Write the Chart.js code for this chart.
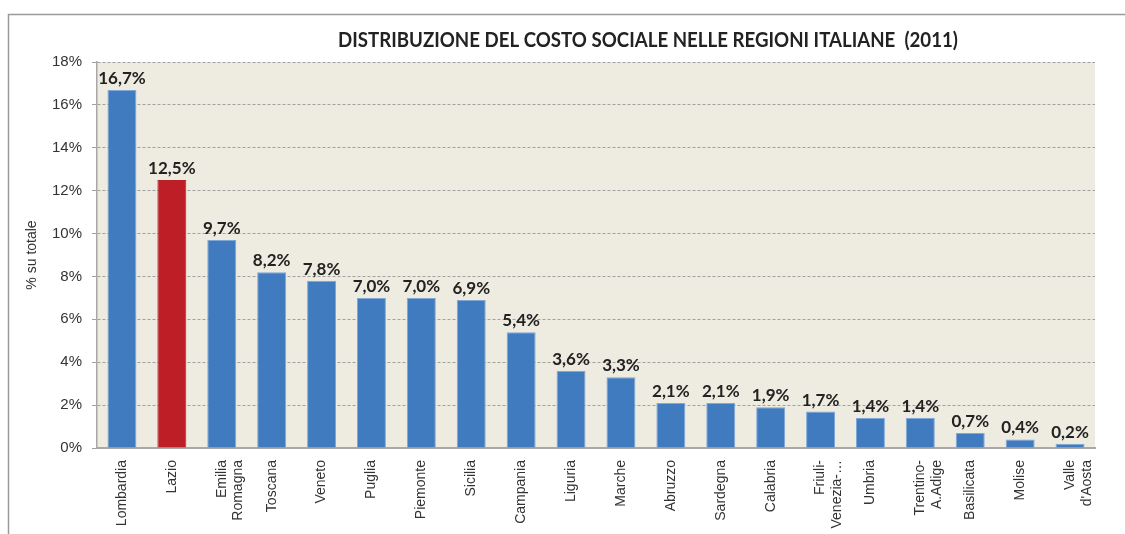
<!DOCTYPE html>
<html>
<head>
<meta charset="utf-8">
<script src="https://cdn.jsdelivr.net/npm/chart.js@4/dist/chart.umd.min.js"></script>
<style>
  html, body { margin: 0; padding: 0; background: #ffffff; }
  #wrap { width: 1125px; height: 534px; position: relative; }
</style>
</head>
<body>
<div id="wrap"><canvas id="c" width="1125" height="534"></canvas></div>
<script>
const titleText = 'DISTRIBUZIONE DEL COSTO SOCIALE NELLE REGIONI ITALIANE  (2011)';
const yAxisTitle = '% su totale';
const regions = [
  'Lombardia', 'Lazio', ['Emilia', 'Romagna'], 'Toscana', 'Veneto', 'Puglia',
  'Piemonte', 'Sicilia', 'Campania', 'Liguria', 'Marche', 'Abruzzo', 'Sardegna',
  'Calabria', ['Friuli-', 'Venezia-…'], 'Umbria', ['Trentino-', 'A.Adige'],
  'Basilicata', 'Molise', ['Valle', "d'Aosta"]
];
const sharePct = [16.7, 12.5, 9.7, 8.2, 7.8, 7.0, 7.0, 6.9, 5.4, 3.6, 3.3, 2.1, 2.1, 1.9, 1.7, 1.4, 1.4, 0.7, 0.4, 0.2];
const highlighted = ['Lazio'];
const yTicks = [0, 2, 4, 6, 8, 10, 12, 14, 16, 18];

const BLUE = '#3F7BBE', BLUE_EDGE = '#7FA7D7', RED = '#BE1E26';
const isHi = regions.map(r => highlighted.includes(Array.isArray(r) ? r.join(' ') : r));

const frameAndBg = {
  id: 'frameAndBg',
  beforeDraw(chart) {
    const { ctx, chartArea: a } = chart;
    ctx.save();
    ctx.strokeStyle = '#9a9a9a';
    ctx.lineWidth = 1.5;
    ctx.beginPath();
    ctx.moveTo(8.5, 534);
    ctx.lineTo(8.5, 14.5);
    ctx.lineTo(1125, 14.5);
    ctx.stroke();
    ctx.fillStyle = '#EEEBE0';
    ctx.fillRect(a.left, a.top, a.right - a.left, a.bottom - a.top);
    // title: bold, horizontally condensed to the reference width
    ctx.fillStyle = '#222222';
    ctx.font = 'bold 20px Lato';
    ctx.textAlign = 'center';
    ctx.textBaseline = 'middle';
    const w = ctx.measureText(titleText).width;
    const sx = Math.min(1, 620 / w);
    ctx.translate(648, 41);
    ctx.scale(sx, 1);
    ctx.fillText(titleText, 0, 0);
    ctx.restore();
  }
};

const valueLabels = {
  id: 'valueLabels',
  afterDatasetsDraw(chart) {
    const { ctx } = chart;
    const meta = chart.getDatasetMeta(0);
    ctx.save();
    ctx.fillStyle = '#222222';
    ctx.font = 'bold 17px Lato';
    ctx.textAlign = 'center';
    ctx.textBaseline = 'bottom';
    meta.data.forEach((bar, i) => {
      const txt = sharePct[i].toFixed(1).replace('.', ',') + '%';
      ctx.fillText(txt, bar.x, bar.y - 3);
    });
    ctx.restore();
  }
};

new Chart(document.getElementById('c'), {
  type: 'bar',
  data: {
    labels: regions,
    datasets: [{
      data: sharePct,
      backgroundColor: isHi.map(h => h ? RED : BLUE),
      borderColor: isHi.map(h => h ? RED : BLUE_EDGE),
      borderWidth: 1,
      barPercentage: 0.58,
      categoryPercentage: 1.0
    }]
  },
  options: {
    responsive: false,
    animation: false,
    devicePixelRatio: 1,
    layout: { padding: { left: 20, top: 62, right: 30, bottom: 0 } },
    plugins: { legend: { display: false }, tooltip: { enabled: false }, title: { display: false } },
    scales: {
      x: {
        grid: { display: false, drawTicks: false },
        border: { display: true, color: '#a8a8a8', width: 2 },
        ticks: {
          minRotation: 90, maxRotation: 90, autoSkip: false, padding: 12,
          color: '#333333', font: { family: 'Liberation Sans', size: 14 }
        },
        afterFit(s) { s.height = 86; }
      },
      y: {
        min: 0, max: 18,
        afterBuildTicks(s) { s.ticks = yTicks.map(v => ({ value: v })); },
        grid: { color: '#a0a0a0', tickColor: '#a0a0a0', tickLength: 5, drawTicks: true },
        border: { display: true, color: '#a8a8a8', width: 1.5, dash: [3, 2] },
        ticks: {
          padding: 10, color: '#333333',
          font: { family: 'Liberation Sans', size: 15 },
          callback: v => v + '%'
        },
        title: {
          display: true, text: yAxisTitle, color: '#333333',
          font: { family: 'Liberation Sans', size: 14 }, padding: { top: 4, bottom: 4 }
        },
        afterFit(s) { s.width = 77; }
      }
    }
  },
  plugins: [frameAndBg, valueLabels]
});
</script>
</body>
</html>
